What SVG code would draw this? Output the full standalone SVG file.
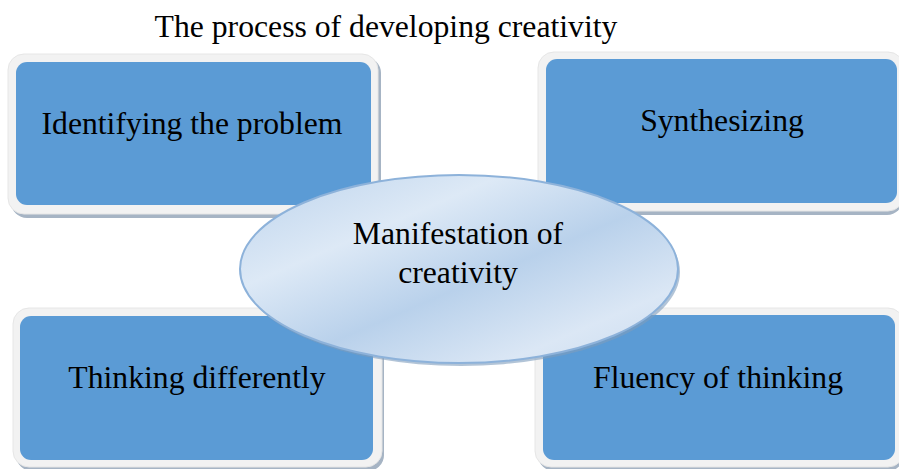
<svg xmlns="http://www.w3.org/2000/svg" width="899" height="469" viewBox="0 0 899 469">
<defs>
<style>
.frame{fill:#f2f2f2;stroke:#e6e6e6;stroke-width:1}
.shadow{fill:#a6b4c4}
.box{fill:#5b9bd5}
.t{font-family:"Liberation Serif","Times New Roman",serif;font-size:31.7px;fill:#000;text-anchor:middle}
.title{font-family:"Liberation Serif","Times New Roman",serif;font-size:31.7px;fill:#000;text-anchor:middle}
</style>
<linearGradient id="eg" x1="0" y1="0" x2="1" y2="1">
<stop offset="0" stop-color="#bcd3ec"/>
<stop offset="0.3" stop-color="#dde9f6"/>
<stop offset="0.55" stop-color="#b9d1eb"/>
<stop offset="0.8" stop-color="#dbe7f5"/>
<stop offset="1" stop-color="#c9dbef"/>
</linearGradient>
</defs>
<rect width="899" height="469" fill="#fff"/>
<text class="title" x="386" y="37">The process of developing creativity</text>
<g id="node-identifying">
<rect class="shadow" x="11" y="57" width="370" height="161" rx="16"/>
<rect class="frame" x="8" y="54" width="370" height="160" rx="16"/>
<rect class="box" x="16" y="62" width="355" height="143" rx="11"/>
<text class="t" x="192" y="134">Identifying the problem</text>
</g>
<g id="node-synthesizing">
<rect class="shadow" x="541" y="55" width="362" height="160" rx="16"/>
<rect class="frame" x="538" y="52" width="366" height="159" rx="16"/>
<rect class="box" x="546" y="59" width="351" height="144" rx="11"/>
<text class="t" x="722" y="131">Synthesizing</text>
</g>
<g id="node-thinking">
<rect class="shadow" x="16" y="311" width="368" height="160" rx="16"/>
<rect class="frame" x="13" y="308" width="369" height="159" rx="16"/>
<rect class="box" x="20" y="316" width="353" height="144" rx="11"/>
<text class="t" x="197" y="388">Thinking differently</text>
</g>
<g id="node-fluency">
<rect class="shadow" x="538" y="311" width="366" height="160" rx="16"/>
<rect class="frame" x="535" y="308" width="369" height="159" rx="16"/>
<rect class="box" x="543" y="315" width="352" height="145" rx="11"/>
<text class="t" x="718" y="388">Fluency of thinking</text>
</g>
<g id="node-manifestation">
<ellipse cx="461" cy="272" rx="219" ry="94" fill="#7f9dbd" opacity="0.6"/>
<ellipse cx="459" cy="269" rx="219" ry="94" fill="url(#eg)" stroke="#8db2da" stroke-width="2"/>
<text class="t" x="458" y="244">Manifestation of</text>
<text class="t" x="458" y="283">creativity</text>
</g>
<g id="connectors"></g>
</svg>
